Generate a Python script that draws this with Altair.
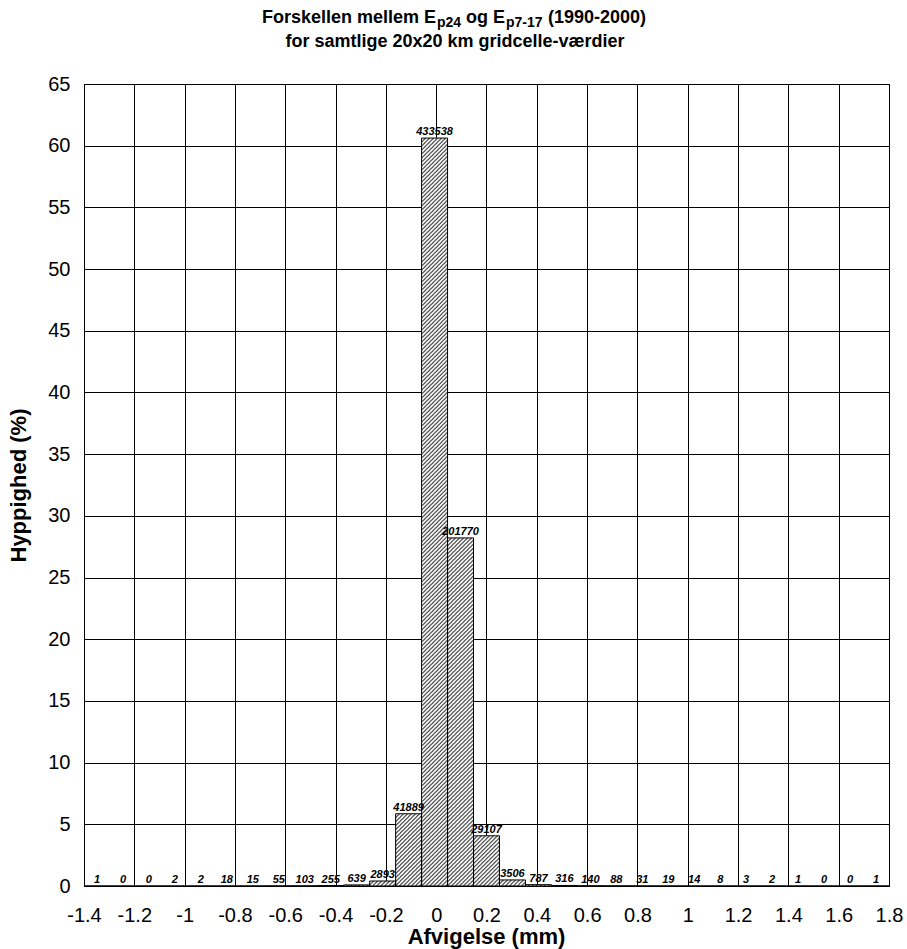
import base64
import altair as alt
import pandas as pd

# ---- data ----
counts = [1, 0, 0, 2, 2, 18, 15, 55, 103, 255, 639, 2893, 41889, 433538, 201770,
          29107, 3506, 787, 316, 140, 88, 31, 19, 14, 8, 3, 2, 1, 0, 0, 1]
bin_index = list(range(len(counts)))
x_ticks = [-1.4, -1.2, -1.0, -0.8, -0.6, -0.4, -0.2, 0.0, 0.2, 0.4, 0.6, 0.8,
           1.0, 1.2, 1.4, 1.6, 1.8]
y_ticks = [0, 5, 10, 15, 20, 25, 30, 35, 40, 45, 50, 55, 60, 65]

title_main = ["Forskellen mellem E", "og E", "(1990-2000)"]
title_subs = ["p24", "p7-17"]
title_line2 = "for samtlige 20x20 km gridcelle-værdier"
x_title = "Afvigelse (mm)"
y_title = "Hyppighed (%)"

FONT = "Liberation Sans"

df = pd.DataFrame({"bin": bin_index, "count": counts})
ticks_df = pd.DataFrame({"v": x_ticks})

# diagonal hatch drawn in real pixel space inside each bar
hatch_svg = (
    "<svg xmlns='http://www.w3.org/2000/svg' width='100%' height='100%'>"
    "<defs><pattern id='h' patternUnits='userSpaceOnUse' width='4' height='4'>"
    "<path d='M-1,1 L1,-1 M0,4 L4,0 M3,5 L5,3' stroke='black' stroke-width='0.9'/>"
    "</pattern></defs><rect width='100%' height='100%' fill='url(#h)'/></svg>"
)
hatch_url = "data:image/svg+xml;base64," + base64.b64encode(hatch_svg.encode()).decode()

base = alt.Chart(df).transform_joinaggregate(
    total="sum(count)"
).transform_calculate(
    pct="100 * datum.count / datum.total",
    hi="datum.bin + 1",
    mid="datum.bin + 0.5",
)

bin_scale = alt.Scale(domain=[0, len(counts)], nice=False, zero=False)
y_enc = alt.Y(
    "pct:Q",
    scale=alt.Scale(domain=[0, 65], nice=False),
    axis=alt.Axis(
        values=y_ticks,
        title=y_title,
        grid=True,
        labelPadding=14,
        titleX=-59,
        titleY=401,
        titleAngle=-90,
        titleAlign="center",
        titleBaseline="alphabetic",
    ),
)

fill_layer = base.mark_rect(fill="white").encode(
    x=alt.X("bin:Q", scale=bin_scale, axis=None), x2="hi:Q", y=y_enc, y2=alt.datum(0)
)
hatch_layer = base.mark_image(aspect=False).encode(
    x=alt.X("bin:Q", scale=bin_scale, axis=None), x2="hi:Q", y=y_enc, y2=alt.datum(0),
    url=alt.value(hatch_url),
)
outline_layer = base.mark_rect(fill="transparent", stroke="black", strokeWidth=1).encode(
    x=alt.X("bin:Q", scale=bin_scale, axis=None), x2="hi:Q", y=y_enc, y2=alt.datum(0)
)
label_layer = base.mark_text(
    font=FONT, fontSize=11, fontWeight="bold", fontStyle="italic",
    baseline="alphabetic", align="center", dy=-3, color="black",
).encode(
    x=alt.X("mid:Q", scale=bin_scale, axis=None), y=y_enc,
    text=alt.Text("count:Q", format="d"),
)

axis_layer = alt.Chart(ticks_df).mark_point(opacity=0).encode(
    x=alt.X(
        "v:Q",
        scale=alt.Scale(domain=[-1.4, 1.8], nice=False, zero=False),
        axis=alt.Axis(
            values=x_ticks,
            grid=True,
            title=x_title,
            labelBaseline="alphabetic",
            labelPadding=35,
            labelOverlap=False,
            labelFlush=False,
            labelExpr="replace(format(datum.value, '.1~f'), '\u2212', '-')",
            titleX=402,
            titleY=57,
            titleAlign="center",
            titleBaseline="alphabetic",
        ),
    ),
    y=alt.value(0),
)

one = alt.Data(values=[{"a": 0}])


def seg(text, x, y, size, align="left"):
    return alt.Chart(one).mark_text(
        text=text, font=FONT, fontSize=size, fontWeight="bold", color="black",
        align=align, baseline="alphabetic",
    ).encode(x=alt.value(x), y=alt.value(y))


title_layers = [
    seg(title_main[0], 178, -61, 18),
    seg(title_subs[0], 353, -57, 14),
    seg(title_main[1], 382, -61, 18),
    seg(title_subs[1], 422, -57, 14),
    seg(title_main[2], 464, -61, 18),
    seg(title_line2, 371, -37, 18, align="center"),
]

chart = alt.layer(
    axis_layer, fill_layer, hatch_layer, outline_layer, label_layer, *title_layers
).resolve_scale(x="independent").properties(
    width=805,
    height=802,
    autosize=alt.AutoSizeParams(type="none"),
    padding={"left": 84, "top": 84, "right": 18, "bottom": 63},
    background="white",
).configure_view(
    stroke="black", strokeWidth=1
).configure_axis(
    labelFont=FONT, labelFontSize=20, labelColor="black",
    titleFont=FONT, titleFontSize=22, titleFontWeight="bold", titleColor="black",
    gridColor="black", gridOpacity=1, gridWidth=1,
    domainColor="black", domainWidth=1, ticks=False, tickSize=0,
)

chart.save("out.html", embed_options={"renderer": "svg", "actions": False})
